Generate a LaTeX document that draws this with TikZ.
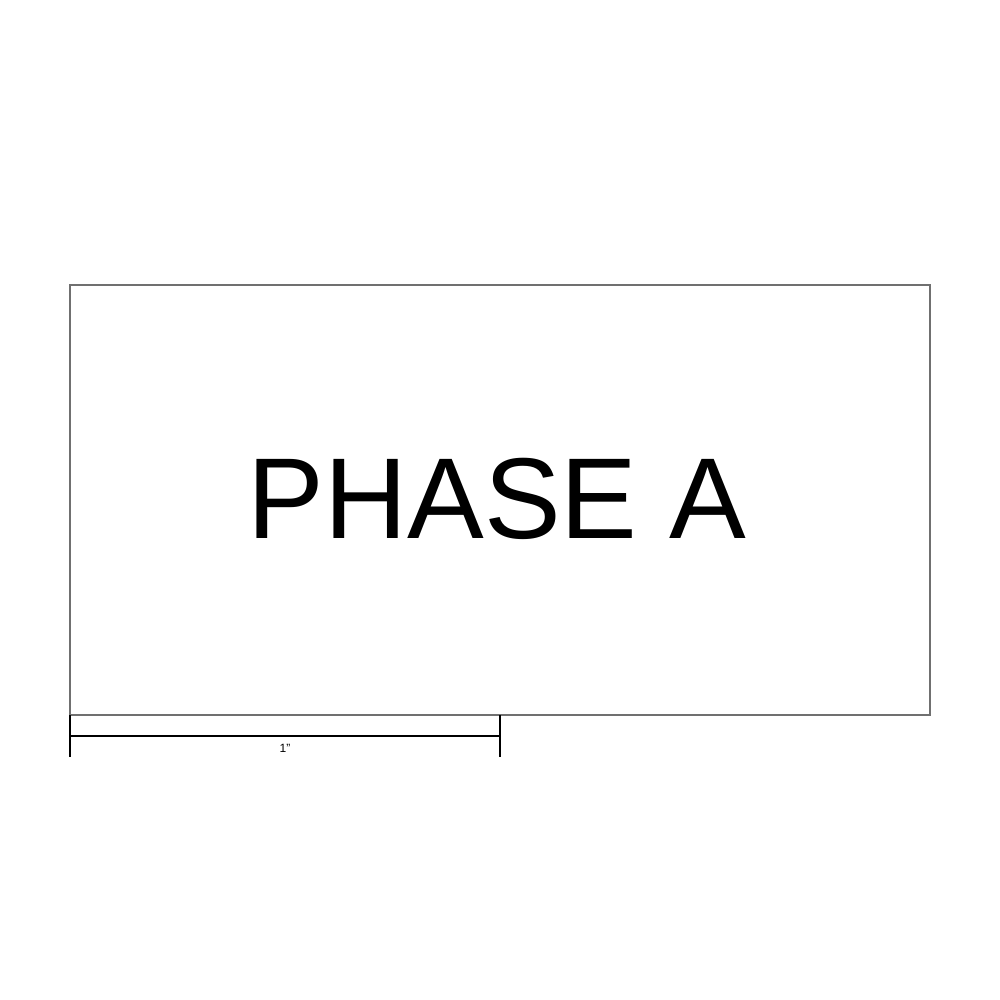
\documentclass[tikz,border=0pt]{standalone}
\usepackage{fontspec}
\setmainfont{Liberation Sans}
\definecolor{framegray}{HTML}{707070}
\begin{document}
\begin{tikzpicture}[x=1pt,y=-1pt,
  frame/.style={draw=framegray,line width=1.2pt},
  scalebar/.style={draw=black,line width=2pt},
  big/.style={font=\fontsize{115}{115}\selectfont,inner sep=0pt,anchor=base},
  small/.style={font=\fontsize{12}{12}\selectfont,inner sep=0pt,anchor=base}]
\useasboundingbox (0,0) rectangle (1000,1000);
\fill[white] (0,0) rectangle (1000,1000);
\draw[frame] (70,285) rectangle (930,715);
\node[big] (title) at (497,538) {PHASE A};
\coordinate (lt) at (70,715);
\coordinate (lb) at (70,757);
\coordinate (rt) at (500,715);
\coordinate (rb) at (500,757);
\coordinate (lm) at (70,736);
\coordinate (rm) at (500,736);
\draw[scalebar] (lt) -- (lb);
\draw[scalebar] (rt) -- (rb);
\draw[scalebar] (lm) -- (rm);
\node[small] (lbl) at (285,752) {1"};
\end{tikzpicture}
\end{document}
